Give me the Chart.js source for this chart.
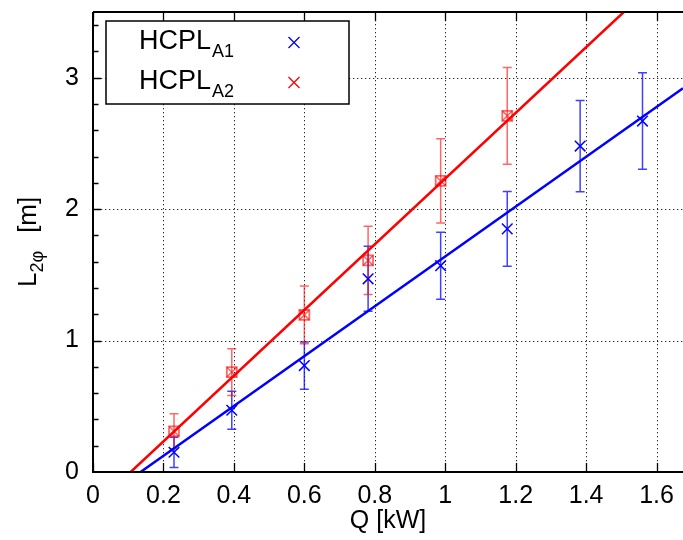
<!DOCTYPE html>
<html>
<head>
<meta charset="utf-8">
<script src="https://cdn.jsdelivr.net/npm/chart.js@4/dist/chart.umd.min.js"></script>
<style>
  body { margin: 0; background: #fff; }
  canvas { display: block; }
</style>
</head>
<body>
<canvas id="lenChart" width="683" height="540"></canvas>
<script>
// HCPL A1 : heat load [kW], two-phase length [m], error
const q1 = [0.23, 0.394, 0.60, 0.781, 0.987, 1.176, 1.383, 1.56];
const len1 = [0.15, 0.47, 0.81, 1.47, 1.57, 1.85, 2.48, 2.67];
const err1 = [0.115, 0.145, 0.18, 0.247, 0.255, 0.284, 0.347, 0.367];

// HCPL A2
const q2 = [0.23, 0.394, 0.60, 0.781, 0.987, 1.176];
const len2 = [0.31, 0.76, 1.195, 1.61, 2.215, 2.71];
const err2 = [0.133, 0.177, 0.22, 0.26, 0.32, 0.368];

// fitted lines (end points)
const fit1X = [0.135, 1.675];
const fit1Y = [0, 2.92];
const fit2X = [0.107, 1.507];
const fit2Y = [0, 3.5];

const seriesNames = ["A1", "A2"];
const FONT = "'Liberation Sans', Arial, Helvetica, sans-serif";
const BLUE = "#0000ff";
const RED = "#ff0000";
const RED_A = "rgba(255,0,0,0.6)";

const pts = (xs, ys) => xs.map((v, i) => ({ x: v, y: ys[i] }));

// no extra label padding, keep the plot box fixed
const noPad = s => {
  s.paddingTop = 0; s.paddingBottom = 0;
  s.paddingLeft = 0; s.paddingRight = 0;
};

// grid, error bars, frame, legend, y title
const framePlugin = {
  id: "frame",
  beforeDatasetsDraw(chart) {
    const { ctx, chartArea: a, scales: { x, y } } = chart;
    ctx.save();
    ctx.strokeStyle = "rgba(0,0,0,0.85)";
    ctx.lineWidth = 1;
    ctx.setLineDash([1.3, 2.7]);
    x.ticks.forEach(t => {
      if (t.value <= 0) return;
      const px = Math.round(x.getPixelForValue(t.value)) + 0.5;
      ctx.beginPath(); ctx.moveTo(px, a.top); ctx.lineTo(px, a.bottom); ctx.stroke();
    });
    y.ticks.forEach(t => {
      if (t.value <= 0) return;
      const py = Math.round(y.getPixelForValue(t.value)) + 0.5;
      ctx.beginPath(); ctx.moveTo(a.left, py); ctx.lineTo(a.right, py); ctx.stroke();
    });
    ctx.setLineDash([]);

    // error bars
    chart.data.datasets.forEach(ds => {
      if (!ds.errors) return;
      ctx.strokeStyle = ds.errColor;
      ctx.lineWidth = 1.5;
      ds.data.forEach((p, i) => {
        const px = x.getPixelForValue(p.x);
        const top = y.getPixelForValue(p.y + ds.errors[i]);
        const bot = y.getPixelForValue(p.y - ds.errors[i]);
        ctx.beginPath();
        ctx.moveTo(px, top); ctx.lineTo(px, bot);
        ctx.moveTo(px - 4.5, top); ctx.lineTo(px + 4.5, top);
        ctx.moveTo(px - 4.5, bot); ctx.lineTo(px + 4.5, bot);
        ctx.stroke();
      });
    });
    ctx.restore();
  },
  afterDraw(chart) {
    const { ctx, chartArea: a, scales: { x, y } } = chart;
    ctx.save();
    // axes lines
    ctx.strokeStyle = "#000";
    ctx.lineWidth = 2;
    ctx.beginPath();
    ctx.moveTo(a.left, a.top); ctx.lineTo(a.right, a.top);
    ctx.moveTo(a.left, a.top); ctx.lineTo(a.left, a.bottom);
    ctx.moveTo(a.left - 1, a.bottom); ctx.lineTo(a.right, a.bottom);
    ctx.stroke();

    // ticks
    ctx.lineWidth = 1.3;
    ctx.beginPath();
    x.ticks.forEach(t => {
      const px = Math.round(x.getPixelForValue(t.value)) + 0.5;
      ctx.moveTo(px, a.bottom); ctx.lineTo(px, a.bottom - 9);
      ctx.moveTo(px, a.top); ctx.lineTo(px, a.top + 9);
    });
    for (let k = 1; k * 0.2 < y.max; k++) {
      const v = k * 0.2;
      const py = Math.round(y.getPixelForValue(v)) + 0.5;
      const len = k % 5 === 0 ? 8 : 5.5;
      ctx.moveTo(a.left, py); ctx.lineTo(a.left + len, py);
    }
    ctx.stroke();

    // legend
    const lx = a.left + 13, ly = a.top + 9, lw = 243, lh = 83;
    ctx.fillStyle = "#fff";
    ctx.fillRect(lx, ly, lw, lh);
    ctx.strokeStyle = "#000";
    ctx.lineWidth = 1.5;
    ctx.strokeRect(lx, ly, lw, lh);
    const colors = [BLUE, RED];
    seriesNames.forEach((name, i) => {
      const base = ly + 28 + i * 40;
      ctx.fillStyle = "#000";
      ctx.textBaseline = "alphabetic";
      ctx.textAlign = "left";
      ctx.font = "27px " + FONT;
      ctx.fillText("HCPL", lx + 33, base);
      const w = ctx.measureText("HCPL").width;
      ctx.font = "18px " + FONT;
      ctx.fillText(name, lx + 33 + w + 1, base + 7.5);
      const mx = lx + 188, my = base - 6.5, s = 5.5;
      ctx.strokeStyle = colors[i];
      ctx.lineWidth = 1.3;
      ctx.beginPath();
      ctx.moveTo(mx - s, my - s); ctx.lineTo(mx + s, my + s);
      ctx.moveTo(mx - s, my + s); ctx.lineTo(mx + s, my - s);
      ctx.stroke();
    });

    // y axis title: L_2phi [m]
    ctx.translate(36, 287);
    ctx.rotate(-Math.PI / 2);
    ctx.fillStyle = "#000";
    ctx.textAlign = "left";
    ctx.textBaseline = "alphabetic";
    ctx.font = "26px " + FONT;
    ctx.fillText("L", 0, 0);
    const wL = ctx.measureText("L").width;
    ctx.font = "18px " + FONT;
    ctx.fillText("2\u03c6", wL, 7);
    const wS = ctx.measureText("2\u03c6").width;
    ctx.font = "26px " + FONT;
    ctx.fillText("[m]", wL + wS + 18, 0);
    ctx.restore();
  }
};

const canvas = document.getElementById("lenChart");

new Chart(canvas, {
  type: "scatter",
  data: {
    datasets: [
      {
        label: "fit A2",
        type: "line",
        data: pts(fit2X, fit2Y),
        borderColor: RED,
        borderWidth: 2.5,
        pointRadius: 0,
        fill: false
      },
      {
        label: "fit A1",
        type: "line",
        data: pts(fit1X, fit1Y),
        borderColor: BLUE,
        borderWidth: 2.5,
        pointRadius: 0,
        fill: false
      },
      {
        label: "HCPL A1",
        data: pts(q1, len1),
        pointStyle: "crossRot",
        pointRadius: 7.5,
        borderColor: BLUE,
        backgroundColor: BLUE,
        pointBorderWidth: 1.5,
        errors: err1,
        errColor: "rgba(0,0,255,0.75)"
      },
      {
        label: "HCPL A2",
        data: pts(q2, len2),
        pointStyle: "crossRot",
        pointRadius: 7,
        borderColor: RED_A,
        backgroundColor: RED_A,
        pointBorderWidth: 1.5,
        errors: err2,
        errColor: RED_A
      },
      {
        label: "HCPL A2 box",
        data: pts(q2, len2),
        pointStyle: "rect",
        pointRadius: 7,
        borderColor: RED_A,
        backgroundColor: "rgba(0,0,0,0)",
        pointBorderWidth: 1.8
      }
    ]
  },
  options: {
    responsive: false,
    animation: false,
    layout: { autoPadding: false, padding: { top: 12, right: 0, left: 0, bottom: 0 } },
    plugins: {
      legend: { display: false },
      tooltip: { enabled: false }
    },
    scales: {
      x: {
        type: "linear",
        min: 0,
        max: 1.675,
        grid: { display: false, drawTicks: false },
        border: { display: false },
        ticks: {
          stepSize: 0.2,
          includeBounds: false,
          autoSkip: false,
          maxRotation: 0,
          padding: 9,
          color: "#000",
          font: { family: FONT, size: 25 },
          callback: v => String(Number(v.toFixed(1)))
        },
        title: {
          display: true,
          text: "Q [kW]",
          color: "#000",
          font: { family: FONT, size: 25 },
          padding: { top: 0, bottom: 4 }
        },
        afterFit: s => { s.height = 68; noPad(s); }
      },
      y: {
        type: "linear",
        min: 0,
        max: 3.5,
        grid: { display: false, drawTicks: false },
        border: { display: false },
        ticks: {
          stepSize: 1,
          includeBounds: false,
          padding: 14,
          color: "#000",
          font: { family: FONT, size: 25 }
        },
        afterFit: s => { s.width = 93; noPad(s); }
      }
    }
  },
  plugins: [framePlugin]
});
</script>
</body>
</html>
